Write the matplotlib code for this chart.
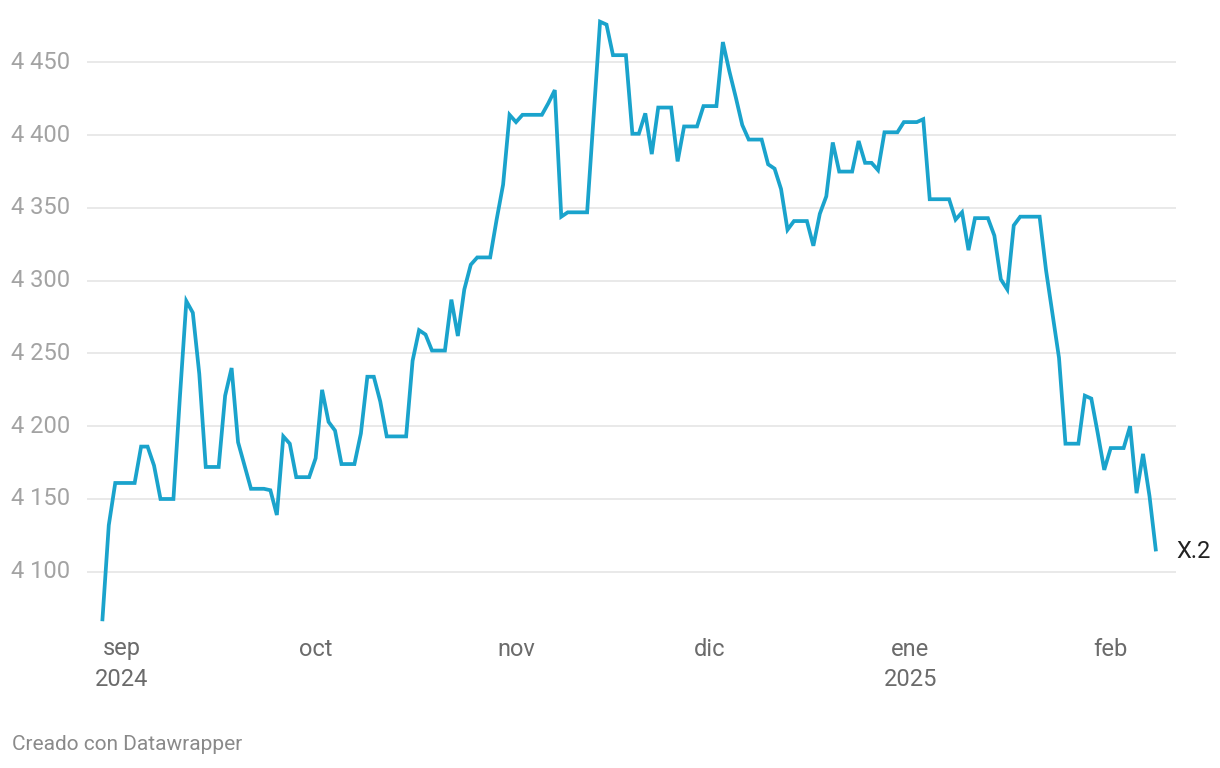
import matplotlib
matplotlib.use("Agg")
import matplotlib.pyplot as plt
import pandas as pd

plt.rcParams['font.family'] = ['Roboto', 'DejaVu Sans']

start_date = "2024-08-29"
values = [
    4066, 4132, 4161, 4161, 4161, 4161, 4186, 4186, 4173, 4150,
    4150, 4150, 4220, 4286, 4278, 4236, 4172, 4172, 4172, 4221,
    4240, 4189, 4173, 4157, 4157, 4157, 4156, 4139, 4193, 4188,
    4165, 4165, 4165, 4178, 4225, 4203, 4197, 4174, 4174, 4174,
    4195, 4234, 4234, 4217, 4193, 4193, 4193, 4193, 4245, 4266,
    4263, 4252, 4252, 4252, 4287, 4262, 4294, 4311, 4316, 4316,
    4316, 4342, 4366, 4414, 4409, 4414, 4414, 4414, 4414, 4422,
    4431, 4344, 4347, 4347, 4347, 4347, 4413, 4478, 4476, 4455,
    4455, 4455, 4401, 4401, 4415, 4387, 4419, 4419, 4419, 4382,
    4406, 4406, 4406, 4420, 4420, 4420, 4464, 4444, 4426, 4407,
    4397, 4397, 4397, 4380, 4377, 4363, 4335, 4341, 4341, 4341,
    4324, 4346, 4358, 4395, 4375, 4375, 4375, 4396, 4381, 4381,
    4376, 4402, 4402, 4402, 4409, 4409, 4409, 4411, 4356, 4356,
    4356, 4356, 4342, 4347, 4321, 4343, 4343, 4343, 4331, 4301,
    4294, 4338, 4344, 4344, 4344, 4344, 4307, 4277, 4247, 4188,
    4188, 4188, 4221, 4219, 4195, 4170, 4185, 4185, 4185, 4200,
    4154, 4181, 4152, 4114,
]
dates = pd.date_range(start_date, periods=len(values), freq="D")

series_label = "X.2"
y_ticks = [4100, 4150, 4200, 4250, 4300, 4350, 4400, 4450]
y_tick_labels = ["4 100", "4 150", "4 200", "4 250", "4 300", "4 350", "4 400", "4 450"]
x_tick_dates = ["2024-09-01", "2024-10-01", "2024-11-01", "2024-12-01", "2025-01-01", "2025-02-01"]
x_month_labels = ["sep", "oct", "nov", "dic", "ene", "feb"]
x_year_labels = ["2024", "", "", "", "2025", ""]
credit = "Creado con Datawrapper"

W, H = 1220, 768
fig = plt.figure(figsize=(W / 100, H / 100), dpi=100)
left_px, right_px, top_px, bottom_px = 87, 1176, 15, 625
ax = fig.add_axes([left_px / W, 1 - bottom_px / H,
                   (right_px - left_px) / W, (bottom_px - top_px) / H])

line_color = "#1aa3cc"
ax.plot(dates, values, color=line_color, lw=2.7, solid_joinstyle="miter",
        solid_capstyle="butt", zorder=3)

d0 = pd.Timestamp(start_date)
ax.set_xlim(d0 - pd.Timedelta(days=2.37), d0 + pd.Timedelta(days=166.1))
ax.set_ylim(4063.4, 4482.6)

for s in ax.spines.values():
    s.set_visible(False)
ax.set_yticks(y_ticks)
ax.set_yticklabels([])
ax.set_xticks([])
ax.tick_params(axis="y", length=0)
ax.grid(axis="y", color="#e3e3e3", lw=1.1, zorder=0)

# y labels
ytr = ax.get_yaxis_transform()
xlab = (11 - left_px) / (right_px - left_px)
for v, lab in zip(y_ticks, y_tick_labels):
    ax.text(xlab, v, lab, transform=ytr, ha="left", va="center",
            fontsize=17, color="#a3a3a3", clip_on=False)

# x labels
xtr = ax.get_xaxis_transform()
h_ax = bottom_px - top_px
y1 = (bottom_px - 649) / h_ax
y2 = (bottom_px - 680) / h_ax
for d, m, yr in zip(x_tick_dates, x_month_labels, x_year_labels):
    ax.text(pd.Timestamp(d), y1, m, transform=xtr, ha="center", va="center",
            fontsize=17, color="#6b6b6b", clip_on=False)
    if yr:
        ax.text(pd.Timestamp(d), y2, yr, transform=xtr, ha="center", va="center",
                fontsize=17, color="#6b6b6b", clip_on=False)

# end label
ax.annotate(series_label, xy=(dates[-1], values[-1]), xytext=(20, 0),
            textcoords="offset pixels", ha="left", va="center",
            fontsize=17, color="#222222", annotation_clip=False)

fig.text(12 / W, 1 - 745 / H, credit, ha="left", va="center",
         fontsize=15, color="#8a8a8a")

fig.savefig("out.png", dpi=100)
